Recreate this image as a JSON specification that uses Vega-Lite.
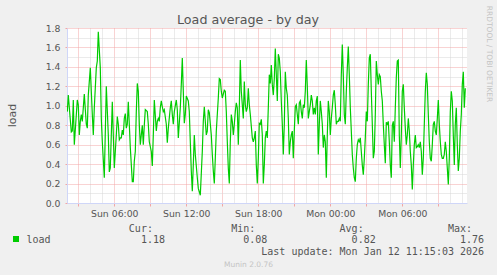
{
  "$schema": "https://vega.github.io/schema/vega-lite/v6.json",
  "width": 400,
  "height": 175,
  "autosize": {"type": "none"},
  "padding": {"left": 67, "top": 28, "right": 30, "bottom": 72},
  "background": "#f0f0f0",
  "config": {"view": {"fill": "white", "stroke": null}},
  "title": {"text": "Load average - by day", "font": "DejaVu Sans", "fontSize": 12.7, "fontWeight": "normal", "color": "#555555", "anchor": "middle", "dx": -19, "dy": 24, "offset": 3},
  "data": {
    "values": [
      {"t":"2026-01-11T02:05:00Z","v":0.94},{"t":"2026-01-11T02:10:00Z","v":1.11},{"t":"2026-01-11T02:25:00Z","v":0.73},{"t":"2026-01-11T02:30:00Z","v":0.74},
      {"t":"2026-01-11T02:35:00Z","v":1.06},{"t":"2026-01-11T02:40:00Z","v":0.60},{"t":"2026-01-11T02:55:00Z","v":1.06},{"t":"2026-01-11T03:00:00Z","v":1.01},
      {"t":"2026-01-11T03:05:00Z","v":0.70},{"t":"2026-01-11T03:10:00Z","v":0.84},{"t":"2026-01-11T03:15:00Z","v":0.91},{"t":"2026-01-11T03:20:00Z","v":0.84},
      {"t":"2026-01-11T03:30:00Z","v":1.12},{"t":"2026-01-11T03:40:00Z","v":0.81},{"t":"2026-01-11T03:45:00Z","v":0.77},{"t":"2026-01-11T03:50:00Z","v":1.11},
      {"t":"2026-01-11T04:00:00Z","v":1.39},{"t":"2026-01-11T04:05:00Z","v":1.15},{"t":"2026-01-11T04:10:00Z","v":0.91},{"t":"2026-01-11T04:15:00Z","v":0.70},
      {"t":"2026-01-11T04:20:00Z","v":0.98},{"t":"2026-01-11T04:30:00Z","v":1.39},{"t":"2026-01-11T04:35:00Z","v":1.46},{"t":"2026-01-11T04:40:00Z","v":1.76},
      {"t":"2026-01-11T04:50:00Z","v":1.39},{"t":"2026-01-11T04:55:00Z","v":0.87},{"t":"2026-01-11T05:00:00Z","v":0.63},{"t":"2026-01-11T05:10:00Z","v":0.26},
      {"t":"2026-01-11T05:20:00Z","v":1.20},{"t":"2026-01-11T05:30:00Z","v":0.70},{"t":"2026-01-11T05:35:00Z","v":0.32},{"t":"2026-01-11T05:40:00Z","v":0.36},
      {"t":"2026-01-11T05:50:00Z","v":1.04},{"t":"2026-01-11T05:55:00Z","v":0.70},{"t":"2026-01-11T06:00:00Z","v":0.36},{"t":"2026-01-11T06:10:00Z","v":0.70},
      {"t":"2026-01-11T06:15:00Z","v":0.89},{"t":"2026-01-11T06:20:00Z","v":0.81},{"t":"2026-01-11T06:25:00Z","v":0.65},{"t":"2026-01-11T06:30:00Z","v":0.67},
      {"t":"2026-01-11T06:35:00Z","v":0.67},{"t":"2026-01-11T06:40:00Z","v":0.75},{"t":"2026-01-11T06:45:00Z","v":0.70},{"t":"2026-01-11T06:50:00Z","v":0.87},
      {"t":"2026-01-11T06:55:00Z","v":0.92},{"t":"2026-01-11T07:00:00Z","v":0.77},{"t":"2026-01-11T07:05:00Z","v":0.81},{"t":"2026-01-11T07:10:00Z","v":1.04},
      {"t":"2026-01-11T07:15:00Z","v":0.81},{"t":"2026-01-11T07:20:00Z","v":0.57},{"t":"2026-01-11T07:30:00Z","v":0.22},{"t":"2026-01-11T07:35:00Z","v":0.22},
      {"t":"2026-01-11T07:40:00Z","v":0.43},{"t":"2026-01-11T07:45:00Z","v":0.53},{"t":"2026-01-11T07:50:00Z","v":0.94},{"t":"2026-01-11T07:55:00Z","v":1.23},
      {"t":"2026-01-11T08:00:00Z","v":1.15},{"t":"2026-01-11T08:05:00Z","v":0.81},{"t":"2026-01-11T08:10:00Z","v":0.60},{"t":"2026-01-11T08:20:00Z","v":0.80},
      {"t":"2026-01-11T08:25:00Z","v":0.60},{"t":"2026-01-11T08:30:00Z","v":0.80},{"t":"2026-01-11T08:35:00Z","v":0.96},{"t":"2026-01-11T08:45:00Z","v":0.94},
      {"t":"2026-01-11T08:50:00Z","v":0.81},{"t":"2026-01-11T08:55:00Z","v":0.63},{"t":"2026-01-11T09:05:00Z","v":0.53},{"t":"2026-01-11T09:10:00Z","v":0.38},
      {"t":"2026-01-11T09:15:00Z","v":0.70},{"t":"2026-01-11T09:20:00Z","v":1.06},{"t":"2026-01-11T09:30:00Z","v":0.74},{"t":"2026-01-11T09:35:00Z","v":0.84},
      {"t":"2026-01-11T09:40:00Z","v":0.87},{"t":"2026-01-11T09:45:00Z","v":0.84},{"t":"2026-01-11T09:50:00Z","v":0.98},{"t":"2026-01-11T09:55:00Z","v":1.05},
      {"t":"2026-01-11T10:00:00Z","v":0.99},{"t":"2026-01-11T10:05:00Z","v":0.94},{"t":"2026-01-11T10:10:00Z","v":0.96},{"t":"2026-01-11T10:20:00Z","v":0.81},
      {"t":"2026-01-11T10:25:00Z","v":0.62},{"t":"2026-01-11T10:30:00Z","v":0.77},{"t":"2026-01-11T10:40:00Z","v":0.98},{"t":"2026-01-11T10:45:00Z","v":1.05},
      {"t":"2026-01-11T10:50:00Z","v":0.91},{"t":"2026-01-11T10:55:00Z","v":0.81},{"t":"2026-01-11T11:00:00Z","v":0.94},{"t":"2026-01-11T11:10:00Z","v":1.06},
      {"t":"2026-01-11T11:15:00Z","v":0.96},{"t":"2026-01-11T11:20:00Z","v":0.67},{"t":"2026-01-11T11:30:00Z","v":0.98},{"t":"2026-01-11T11:35:00Z","v":1.22},
      {"t":"2026-01-11T11:40:00Z","v":1.49},{"t":"2026-01-11T11:45:00Z","v":1.15},{"t":"2026-01-11T11:50:00Z","v":0.82},{"t":"2026-01-11T11:55:00Z","v":0.91},
      {"t":"2026-01-11T12:00:00Z","v":1.10},{"t":"2026-01-11T12:10:00Z","v":1.05},{"t":"2026-01-11T12:15:00Z","v":0.94},{"t":"2026-01-11T12:20:00Z","v":0.63},
      {"t":"2026-01-11T12:25:00Z","v":0.33},{"t":"2026-01-11T12:30:00Z","v":0.12},{"t":"2026-01-11T12:35:00Z","v":0.39},{"t":"2026-01-11T12:40:00Z","v":0.70},
      {"t":"2026-01-11T12:45:00Z","v":0.50},{"t":"2026-01-11T12:55:00Z","v":0.26},{"t":"2026-01-11T13:00:00Z","v":0.15},{"t":"2026-01-11T13:10:00Z","v":0.08},
      {"t":"2026-01-11T13:20:00Z","v":0.53},{"t":"2026-01-11T13:25:00Z","v":0.84},{"t":"2026-01-11T13:30:00Z","v":0.99},{"t":"2026-01-11T13:35:00Z","v":0.84},
      {"t":"2026-01-11T13:40:00Z","v":0.70},{"t":"2026-01-11T13:45:00Z","v":0.74},{"t":"2026-01-11T13:50:00Z","v":0.96},{"t":"2026-01-11T13:55:00Z","v":0.93},
      {"t":"2026-01-11T14:05:00Z","v":0.70},{"t":"2026-01-11T14:10:00Z","v":0.50},{"t":"2026-01-11T14:15:00Z","v":0.33},{"t":"2026-01-11T14:20:00Z","v":0.20},
      {"t":"2026-01-11T14:25:00Z","v":0.46},{"t":"2026-01-11T14:30:00Z","v":0.74},{"t":"2026-01-11T14:40:00Z","v":1.08},{"t":"2026-01-11T14:45:00Z","v":1.28},
      {"t":"2026-01-11T14:50:00Z","v":1.27},{"t":"2026-01-11T14:55:00Z","v":1.15},{"t":"2026-01-11T15:00:00Z","v":1.08},{"t":"2026-01-11T15:10:00Z","v":1.16},
      {"t":"2026-01-11T15:15:00Z","v":1.15},{"t":"2026-01-11T15:20:00Z","v":0.94},{"t":"2026-01-11T15:25:00Z","v":0.63},{"t":"2026-01-11T15:30:00Z","v":0.36},
      {"t":"2026-01-11T15:35:00Z","v":0.20},{"t":"2026-01-11T15:40:00Z","v":0.63},{"t":"2026-01-11T15:45:00Z","v":0.91},{"t":"2026-01-11T15:50:00Z","v":0.84},
      {"t":"2026-01-11T15:55:00Z","v":0.70},{"t":"2026-01-11T16:00:00Z","v":0.81},{"t":"2026-01-11T16:05:00Z","v":0.94},{"t":"2026-01-11T16:10:00Z","v":1.03},
      {"t":"2026-01-11T16:15:00Z","v":0.98},{"t":"2026-01-11T16:20:00Z","v":0.60},{"t":"2026-01-11T16:25:00Z","v":0.98},{"t":"2026-01-11T16:30:00Z","v":1.47},
      {"t":"2026-01-11T16:35:00Z","v":1.15},{"t":"2026-01-11T16:40:00Z","v":1.01},{"t":"2026-01-11T16:45:00Z","v":0.87},{"t":"2026-01-11T16:50:00Z","v":1.25},
      {"t":"2026-01-11T16:55:00Z","v":1.01},{"t":"2026-01-11T17:00:00Z","v":0.94},{"t":"2026-01-11T17:05:00Z","v":0.98},{"t":"2026-01-11T17:10:00Z","v":1.18},
      {"t":"2026-01-11T17:15:00Z","v":1.01},{"t":"2026-01-11T17:20:00Z","v":0.91},{"t":"2026-01-11T17:30:00Z","v":0.67},{"t":"2026-01-11T17:35:00Z","v":0.63},
      {"t":"2026-01-11T17:40:00Z","v":0.67},{"t":"2026-01-11T17:45:00Z","v":0.74},{"t":"2026-01-11T17:50:00Z","v":0.39},{"t":"2026-01-11T17:55:00Z","v":0.20},
      {"t":"2026-01-11T18:00:00Z","v":0.46},{"t":"2026-01-11T18:05:00Z","v":0.82},{"t":"2026-01-11T18:10:00Z","v":0.81},{"t":"2026-01-11T18:15:00Z","v":0.86},
      {"t":"2026-01-11T18:20:00Z","v":0.70},{"t":"2026-01-11T18:25:00Z","v":0.20},{"t":"2026-01-11T18:30:00Z","v":0.39},{"t":"2026-01-11T18:35:00Z","v":0.67},
      {"t":"2026-01-11T18:40:00Z","v":0.74},{"t":"2026-01-11T18:45:00Z","v":0.67},{"t":"2026-01-11T18:50:00Z","v":0.98},{"t":"2026-01-11T18:55:00Z","v":1.32},
      {"t":"2026-01-11T19:00:00Z","v":1.23},{"t":"2026-01-11T19:05:00Z","v":1.42},{"t":"2026-01-11T19:10:00Z","v":1.22},{"t":"2026-01-11T19:15:00Z","v":1.11},
      {"t":"2026-01-11T19:20:00Z","v":1.28},{"t":"2026-01-11T19:25:00Z","v":1.59},{"t":"2026-01-11T19:30:00Z","v":1.32},{"t":"2026-01-11T19:35:00Z","v":1.05},
      {"t":"2026-01-11T19:40:00Z","v":1.53},{"t":"2026-01-11T19:45:00Z","v":1.49},{"t":"2026-01-11T19:50:00Z","v":1.35},{"t":"2026-01-11T19:55:00Z","v":1.05},
      {"t":"2026-01-11T20:00:00Z","v":0.81},{"t":"2026-01-11T20:05:00Z","v":0.50},{"t":"2026-01-11T20:10:00Z","v":0.81},{"t":"2026-01-11T20:15:00Z","v":1.35},
      {"t":"2026-01-11T20:20:00Z","v":1.18},{"t":"2026-01-11T20:25:00Z","v":1.11},{"t":"2026-01-11T20:30:00Z","v":0.87},{"t":"2026-01-11T20:35:00Z","v":0.50},
      {"t":"2026-01-11T20:40:00Z","v":0.63},{"t":"2026-01-11T20:45:00Z","v":0.70},{"t":"2026-01-11T20:50:00Z","v":0.74},{"t":"2026-01-11T20:55:00Z","v":0.46},
      {"t":"2026-01-11T21:00:00Z","v":0.74},{"t":"2026-01-11T21:05:00Z","v":0.99},{"t":"2026-01-11T21:10:00Z","v":1.01},{"t":"2026-01-11T21:15:00Z","v":0.91},
      {"t":"2026-01-11T21:20:00Z","v":0.81},{"t":"2026-01-11T21:25:00Z","v":1.03},{"t":"2026-01-11T21:30:00Z","v":1.05},{"t":"2026-01-11T21:35:00Z","v":0.94},
      {"t":"2026-01-11T21:40:00Z","v":0.87},{"t":"2026-01-11T21:45:00Z","v":1.01},{"t":"2026-01-11T21:50:00Z","v":0.98},{"t":"2026-01-11T21:55:00Z","v":1.15},
      {"t":"2026-01-11T22:00:00Z","v":1.47},{"t":"2026-01-11T22:05:00Z","v":1.20},{"t":"2026-01-11T22:10:00Z","v":0.87},{"t":"2026-01-11T22:15:00Z","v":0.94},
      {"t":"2026-01-11T22:20:00Z","v":1.01},{"t":"2026-01-11T22:25:00Z","v":1.11},{"t":"2026-01-11T22:30:00Z","v":1.05},{"t":"2026-01-11T22:35:00Z","v":0.91},
      {"t":"2026-01-11T22:40:00Z","v":0.98},{"t":"2026-01-11T22:45:00Z","v":0.91},{"t":"2026-01-11T22:50:00Z","v":1.05},{"t":"2026-01-11T22:55:00Z","v":1.10},
      {"t":"2026-01-11T23:00:00Z","v":0.50},{"t":"2026-01-11T23:05:00Z","v":0.81},{"t":"2026-01-11T23:10:00Z","v":1.05},{"t":"2026-01-11T23:15:00Z","v":0.94},
      {"t":"2026-01-11T23:20:00Z","v":0.81},{"t":"2026-01-11T23:25:00Z","v":0.57},{"t":"2026-01-11T23:30:00Z","v":0.70},{"t":"2026-01-11T23:35:00Z","v":0.63},
      {"t":"2026-01-11T23:40:00Z","v":0.26},{"t":"2026-01-11T23:45:00Z","v":0.70},{"t":"2026-01-11T23:50:00Z","v":1.05},{"t":"2026-01-11T23:55:00Z","v":0.94},
      {"t":"2026-01-12T00:00:00Z","v":0.70},{"t":"2026-01-12T00:05:00Z","v":0.87},{"t":"2026-01-12T00:10:00Z","v":0.98},{"t":"2026-01-12T00:15:00Z","v":1.11},
      {"t":"2026-01-12T00:20:00Z","v":1.16},{"t":"2026-01-12T00:25:00Z","v":1.01},{"t":"2026-01-12T00:30:00Z","v":0.81},{"t":"2026-01-12T00:35:00Z","v":0.84},
      {"t":"2026-01-12T00:40:00Z","v":0.84},{"t":"2026-01-12T00:45:00Z","v":0.87},{"t":"2026-01-12T00:50:00Z","v":0.84},{"t":"2026-01-12T00:55:00Z","v":1.32},
      {"t":"2026-01-12T01:00:00Z","v":1.63},{"t":"2026-01-12T01:05:00Z","v":1.32},{"t":"2026-01-12T01:10:00Z","v":0.91},{"t":"2026-01-12T01:15:00Z","v":0.81},
      {"t":"2026-01-12T01:20:00Z","v":1.15},{"t":"2026-01-12T01:25:00Z","v":1.39},{"t":"2026-01-12T01:30:00Z","v":1.61},{"t":"2026-01-12T01:35:00Z","v":1.32},
      {"t":"2026-01-12T01:40:00Z","v":0.98},{"t":"2026-01-12T01:45:00Z","v":0.74},{"t":"2026-01-12T01:50:00Z","v":0.50},{"t":"2026-01-12T01:55:00Z","v":0.36},
      {"t":"2026-01-12T02:00:00Z","v":0.26},{"t":"2026-01-12T02:05:00Z","v":0.22},{"t":"2026-01-12T02:10:00Z","v":0.46},{"t":"2026-01-12T02:15:00Z","v":0.60},
      {"t":"2026-01-12T02:20:00Z","v":0.65},{"t":"2026-01-12T02:25:00Z","v":0.63},{"t":"2026-01-12T02:30:00Z","v":0.67},{"t":"2026-01-12T02:35:00Z","v":0.53},
      {"t":"2026-01-12T02:40:00Z","v":0.39},{"t":"2026-01-12T02:45:00Z","v":0.29},{"t":"2026-01-12T02:50:00Z","v":0.46},{"t":"2026-01-12T02:55:00Z","v":0.67},
      {"t":"2026-01-12T03:00:00Z","v":0.94},{"t":"2026-01-12T03:05:00Z","v":0.84},{"t":"2026-01-12T03:10:00Z","v":1.22},{"t":"2026-01-12T03:15:00Z","v":1.49},
      {"t":"2026-01-12T03:20:00Z","v":1.53},{"t":"2026-01-12T03:25:00Z","v":1.15},{"t":"2026-01-12T03:30:00Z","v":0.81},{"t":"2026-01-12T03:35:00Z","v":0.46},
      {"t":"2026-01-12T03:40:00Z","v":0.53},{"t":"2026-01-12T03:45:00Z","v":0.91},{"t":"2026-01-12T03:50:00Z","v":1.46},{"t":"2026-01-12T03:55:00Z","v":1.32},
      {"t":"2026-01-12T04:00:00Z","v":1.22},{"t":"2026-01-12T04:05:00Z","v":1.32},{"t":"2026-01-12T04:10:00Z","v":1.30},{"t":"2026-01-12T04:15:00Z","v":1.15},
      {"t":"2026-01-12T04:20:00Z","v":1.05},{"t":"2026-01-12T04:25:00Z","v":0.81},{"t":"2026-01-12T04:30:00Z","v":0.60},{"t":"2026-01-12T04:35:00Z","v":0.41},
      {"t":"2026-01-12T04:40:00Z","v":0.83},{"t":"2026-01-12T04:45:00Z","v":0.81},{"t":"2026-01-12T04:50:00Z","v":0.84},{"t":"2026-01-12T04:55:00Z","v":0.63},
      {"t":"2026-01-12T05:00:00Z","v":0.39},{"t":"2026-01-12T05:05:00Z","v":0.26},{"t":"2026-01-12T05:10:00Z","v":0.80},{"t":"2026-01-12T05:15:00Z","v":0.84},
      {"t":"2026-01-12T05:20:00Z","v":0.63},{"t":"2026-01-12T05:25:00Z","v":0.98},{"t":"2026-01-12T05:30:00Z","v":1.29},{"t":"2026-01-12T05:35:00Z","v":1.46},
      {"t":"2026-01-12T05:40:00Z","v":1.47},{"t":"2026-01-12T05:45:00Z","v":0.70},{"t":"2026-01-12T05:50:00Z","v":0.36},{"t":"2026-01-12T05:55:00Z","v":0.70},
      {"t":"2026-01-12T06:00:00Z","v":1.15},{"t":"2026-01-12T06:05:00Z","v":1.22},{"t":"2026-01-12T06:10:00Z","v":0.98},{"t":"2026-01-12T06:15:00Z","v":0.77},
      {"t":"2026-01-12T06:20:00Z","v":0.60},{"t":"2026-01-12T06:25:00Z","v":0.70},{"t":"2026-01-12T06:30:00Z","v":0.87},{"t":"2026-01-12T06:35:00Z","v":0.74},
      {"t":"2026-01-12T06:40:00Z","v":0.53},{"t":"2026-01-12T06:45:00Z","v":0.39},{"t":"2026-01-12T06:50:00Z","v":0.14},{"t":"2026-01-12T06:55:00Z","v":0.39},
      {"t":"2026-01-12T07:00:00Z","v":0.60},{"t":"2026-01-12T07:05:00Z","v":0.70},{"t":"2026-01-12T07:10:00Z","v":0.57},{"t":"2026-01-12T07:15:00Z","v":0.58},
      {"t":"2026-01-12T07:20:00Z","v":0.60},{"t":"2026-01-12T07:25:00Z","v":0.57},{"t":"2026-01-12T07:30:00Z","v":0.63},{"t":"2026-01-12T07:35:00Z","v":0.53},
      {"t":"2026-01-12T07:40:00Z","v":0.29},{"t":"2026-01-12T07:45:00Z","v":0.46},{"t":"2026-01-12T07:50:00Z","v":0.81},{"t":"2026-01-12T07:55:00Z","v":1.15},
      {"t":"2026-01-12T08:00:00Z","v":1.34},{"t":"2026-01-12T08:05:00Z","v":1.22},{"t":"2026-01-12T08:10:00Z","v":0.91},{"t":"2026-01-12T08:15:00Z","v":0.63},
      {"t":"2026-01-12T08:20:00Z","v":0.46},{"t":"2026-01-12T08:25:00Z","v":0.43},{"t":"2026-01-12T08:30:00Z","v":0.60},{"t":"2026-01-12T08:35:00Z","v":0.81},
      {"t":"2026-01-12T08:40:00Z","v":0.84},{"t":"2026-01-12T08:45:00Z","v":0.74},{"t":"2026-01-12T08:50:00Z","v":0.70},{"t":"2026-01-12T08:55:00Z","v":0.87},
      {"t":"2026-01-12T09:00:00Z","v":1.06},{"t":"2026-01-12T09:05:00Z","v":0.81},{"t":"2026-01-12T09:10:00Z","v":0.63},{"t":"2026-01-12T09:15:00Z","v":0.50},
      {"t":"2026-01-12T09:20:00Z","v":0.46},{"t":"2026-01-12T09:25:00Z","v":0.46},{"t":"2026-01-12T09:30:00Z","v":0.50},{"t":"2026-01-12T09:35:00Z","v":0.63},
      {"t":"2026-01-12T09:40:00Z","v":0.53},{"t":"2026-01-12T09:45:00Z","v":0.36},{"t":"2026-01-12T09:50:00Z","v":0.19},{"t":"2026-01-12T09:55:00Z","v":0.46},
      {"t":"2026-01-12T10:00:00Z","v":0.94},{"t":"2026-01-12T10:05:00Z","v":1.15},{"t":"2026-01-12T10:10:00Z","v":1.05},{"t":"2026-01-12T10:15:00Z","v":0.70},
      {"t":"2026-01-12T10:20:00Z","v":0.39},{"t":"2026-01-12T10:25:00Z","v":0.81},{"t":"2026-01-12T10:30:00Z","v":0.98},{"t":"2026-01-12T10:35:00Z","v":0.60},
      {"t":"2026-01-12T10:40:00Z","v":0.33},{"t":"2026-01-12T10:45:00Z","v":0.46},{"t":"2026-01-12T10:50:00Z","v":0.74},{"t":"2026-01-12T10:55:00Z","v":0.91},
      {"t":"2026-01-12T11:00:00Z","v":1.22},{"t":"2026-01-12T11:05:00Z","v":1.35},{"t":"2026-01-12T11:10:00Z","v":0.98},{"t":"2026-01-12T11:15:00Z","v":1.18}
    ]
  },
  "resolve": {"axis": {"x": "independent", "y": "independent"}},
  "layer": [
    {
      "mark": {"type": "line", "strokeWidth": 1.2, "clip": true},
      "encoding": {
        "x": {
          "field": "t", "type": "temporal",
          "scale": {"type": "utc", "nice": false, "domain": [1768097010000, 1768217010000]},
          "axis": {
            "orient": "bottom",
            "values": [1768100400000, 1768104000000, 1768107600000, 1768111200000, 1768114800000, 1768118400000, 1768122000000, 1768125600000, 1768129200000, 1768132800000, 1768136400000, 1768140000000, 1768143600000, 1768147200000, 1768150800000, 1768154400000, 1768158000000, 1768161600000, 1768165200000, 1768168800000, 1768172400000, 1768176000000, 1768179600000, 1768183200000, 1768186800000, 1768190400000, 1768194000000, 1768197600000, 1768201200000, 1768204800000, 1768208400000, 1768212000000, 1768215600000],
            "grid": true,
            "gridColor": {"condition": {"test": "utchours(datum.value) % 3 === 0", "value": "#f2a6a6"}, "value": "#d6d6d6"},
            "gridDash": [1, 1],
            "tickSize": 3,
            "tickColor": {"condition": {"test": "utchours(datum.value) % 3 === 0", "value": "#f2a6a6"}, "value": "transparent"},
            "domainColor": "#cfd6f8",
            "labelExpr": "utchours(datum.value) % 6 === 0 ? utcFormat(datum.value, '%a %H:%M') : ''",
            "labelFont": "DejaVu Sans", "labelFontSize": 9.3, "labelColor": "#555555", "labelPadding": 3,
            "labelFlush": false, "labelOverlap": false,
            "title": [
              "\u200b\u00a0\u00a0\u00a0\u00a0\u00a0\u00a0\u00a0\u00a0\u00a0\u00a0\u00a0\u00a0\u00a0\u00a0\u00a0\u00a0\u00a0Cur:\u00a0\u00a0\u00a0\u00a0\u00a0\u00a0\u00a0\u00a0\u00a0\u00a0\u00a0\u00a0\u00a0Min:\u00a0\u00a0\u00a0\u00a0\u00a0\u00a0\u00a0\u00a0\u00a0\u00a0\u00a0\u00a0\u00a0\u00a0Avg:\u00a0\u00a0\u00a0\u00a0\u00a0\u00a0\u00a0\u00a0\u00a0\u00a0\u00a0\u00a0\u00a0\u00a0Max:",
              "load\u00a0\u00a0\u00a0\u00a0\u00a0\u00a0\u00a0\u00a0\u00a0\u00a0\u00a0\u00a0\u00a0\u00a0\u00a01.18\u00a0\u00a0\u00a0\u00a0\u00a0\u00a0\u00a0\u00a0\u00a0\u00a0\u00a0\u00a0\u00a00.08\u00a0\u00a0\u00a0\u00a0\u00a0\u00a0\u00a0\u00a0\u00a0\u00a0\u00a0\u00a0\u00a0\u00a00.82\u00a0\u00a0\u00a0\u00a0\u00a0\u00a0\u00a0\u00a0\u00a0\u00a0\u00a0\u00a0\u00a0\u00a01.76",
              "\u200b\u00a0\u00a0\u00a0\u00a0\u00a0\u00a0\u00a0\u00a0\u00a0\u00a0\u00a0\u00a0\u00a0\u00a0\u00a0\u00a0\u00a0\u00a0\u00a0\u00a0\u00a0\u00a0\u00a0\u00a0\u00a0\u00a0\u00a0\u00a0\u00a0\u00a0\u00a0\u00a0\u00a0\u00a0\u00a0\u00a0\u00a0\u00a0\u00a0Last update: Mon Jan 12 11:15:03 2026"
            ],
            "titleFont": "DejaVu Sans Mono", "titleFontSize": 10, "titleFontWeight": "normal", "titleColor": "#555555",
            "titleAlign": "left", "titleAnchor": "start", "titleBaseline": "alphabetic",
            "titleX": -41, "titleY": 28, "titleLineHeight": 11.6
          }
        },
        "y": {
          "field": "v", "type": "quantitative",
          "scale": {"domain": [0, 1.8], "nice": false},
          "axis": {
            "orient": "left",
            "values": [0, 0.1, 0.2, 0.3, 0.4, 0.5, 0.6, 0.7, 0.8, 0.9, 1.0, 1.1, 1.2, 1.3, 1.4, 1.5, 1.6, 1.7, 1.8],
            "grid": true,
            "gridColor": {"condition": {"test": "round(datum.value * 10) % 2 === 0", "value": "#f2a6a6"}, "value": "#d6d6d6"},
            "gridDash": [1, 1],
            "tickSize": 2,
            "tickColor": {"condition": {"test": "round(datum.value * 10) % 2 === 0", "value": "#f2a6a6"}, "value": "transparent"},
            "domainColor": "#cfd6f8",
            "labelExpr": "round(datum.value * 10) % 2 === 0 ? format(datum.value, '.1f') : ''",
            "labelFont": "DejaVu Sans", "labelFontSize": 9.3, "labelColor": "#555555", "labelPadding": 5,
            "labelOverlap": false, "labelFlush": false,
            "title": "load", "titleFont": "DejaVu Sans", "titleFontSize": 11, "titleFontWeight": "normal", "titleColor": "#555555",
            "titleAngle": -90, "titleAlign": "center", "titleBaseline": "alphabetic", "titleX": -52, "titleY": 87
          }
        },
        "color": {
          "datum": "load", "type": "nominal",
          "scale": {"range": ["#00cc00"]},
          "legend": {
            "orient": "none", "legendX": -54, "legendY": 208, "title": null, "padding": 0,
            "symbolType": "square", "symbolSize": 36, "symbolStrokeWidth": 0,
            "labelFontSize": 1, "labelOpacity": 0, "labelExpr": "''", "labelLimit": 1,
            "encode": {"symbols": {"update": {"fill": {"value": "#00cc00"}, "stroke": {"value": "#00cc00"}, "shape": {"value": "square"}, "strokeWidth": {"value": 0}}}}
          }
        }
      }
    },
    {
      "mark": {"type": "line", "opacity": 0},
      "encoding": {
        "x": {
          "field": "t", "type": "temporal",
          "axis": {
            "orient": "bottom", "domain": false, "ticks": false, "labels": false, "grid": false,
            "title": "Munin 2.0.76", "titleFont": "DejaVu Sans", "titleFontSize": 7.5, "titleFontWeight": "normal", "titleColor": "#c4c4c4",
            "titleAlign": "center", "titleBaseline": "alphabetic", "titleX": 181, "titleY": 63.5
          }
        },
        "y": {
          "field": "v", "type": "quantitative",
          "axis": {
            "orient": "right", "domain": false, "ticks": false, "labels": false, "grid": false,
            "title": "RRDTOOL / TOBI OETIKER", "titleFont": "DejaVu Sans", "titleFontSize": 7.5, "titleFontWeight": "normal", "titleColor": "#c4c4c4",
            "titleAngle": 90, "titleAlign": "center", "titleBaseline": "middle", "titleX": 21, "titleY": 25.5
          }
        }
      }
    }
  ]
}
